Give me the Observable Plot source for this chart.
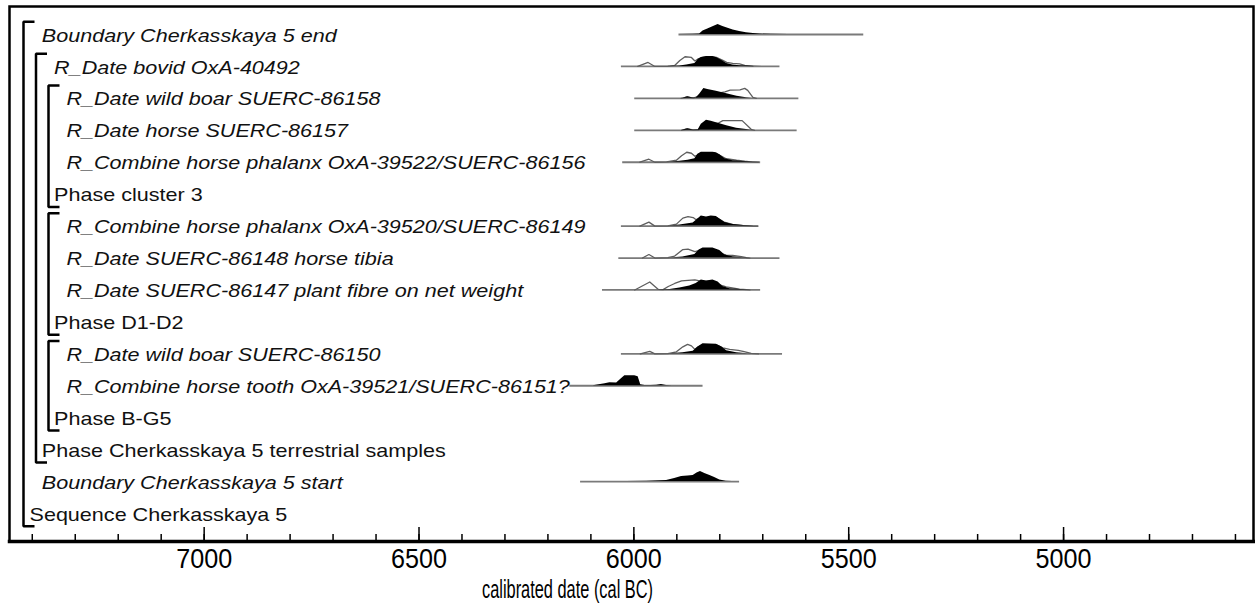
<!DOCTYPE html>
<html><head><meta charset="utf-8">
<script src="https://cdn.jsdelivr.net/npm/d3@7"></script>
<script src="https://cdn.jsdelivr.net/npm/@observablehq/plot@0.6"></script>
<style>
body{margin:0;background:#fff;}
#chart svg{display:block;}
</style></head><body><div id="chart"></div>
<script>
// ---- data ----
const rowLabels = [
  "Boundary Cherkasskaya 5 end",
  "R_Date bovid OxA-40492",
  "R_Date wild boar SUERC-86158",
  "R_Date horse SUERC-86157",
  "R_Combine horse phalanx OxA-39522/SUERC-86156",
  "Phase cluster 3",
  "R_Combine horse phalanx OxA-39520/SUERC-86149",
  "R_Date SUERC-86148 horse tibia",
  "R_Date SUERC-86147 plant fibre on net weight",
  "Phase D1-D2",
  "R_Date wild boar SUERC-86150",
  "R_Combine horse tooth OxA-39521/SUERC-86151?",
  "Phase B-G5",
  "Phase Cherkasskaya 5 terrestrial samples",
  "Boundary Cherkasskaya 5 start",
  "Sequence Cherkasskaya 5"
];
const rowItalic = [1,1,1,1,1,0,1,1,1,0,1,1,0,0,1,0];
const rowIndent = [1,2,3,3,3,2,3,3,3,2,3,3,2,1,1,0];
// calculation range (cal BC) of each row's baseline, null = no distribution
const rangeFrom = [5895,6029,5998,5998,6026,null,6029,6035,6073,null,6029,6149,null,null,6124,null];
const rangeTo   = [5465,5660,5616,5620,5705,null,5709,5660,5705,null,5654,5839,null,null,5754,null];

// posterior (modelled, filled) distributions: [cal BC, relative probability]
const postEnd = [[5895,0],[5862,0.02],[5847,0.05],[5839,0.35],[5828,0.55],[5816,0.78],[5804,1],[5793,0.8],[5781,0.62],[5769,0.45],[5754,0.3],[5738,0.18],[5722,0.1],[5707,0.05],[5680,0.02],[5640,0.01],[5600,0]];
const postBovid = [[5916,0],[5893,0.05],[5877,0.15],[5858,0.3],[5850,0.7],[5843,0.9],[5831,1],[5816,1],[5808,0.9],[5793,0.55],[5784,0.3],[5770,0.15],[5754,0.08],[5723,0.02],[5700,0]];
const postBoar58 = [[5886,0],[5875,0.15],[5865,0.05],[5855,0.03],[5847,0.4],[5837,1],[5828,0.9],[5808,0.7],[5784,0.45],[5760,0.2],[5738,0.07],[5723,0]];
const postHorse57 = [[5889,0],[5875,0.15],[5862,0.03],[5850,0.05],[5843,0.6],[5831,1],[5820,0.9],[5804,0.7],[5784,0.45],[5761,0.2],[5738,0.07],[5723,0]];
const postPhal56 = [[5916,0],[5893,0.1],[5874,0.2],[5858,0.35],[5851,0.8],[5843,1],[5816,1],[5808,0.95],[5800,0.75],[5788,0.35],[5770,0.15],[5747,0.07],[5727,0.02],[5710,0]];
const postPhal49 = [[5916,0],[5893,0.1],[5862,0.3],[5851,0.7],[5843,1],[5831,0.9],[5820,1],[5808,0.95],[5800,0.7],[5788,0.35],[5770,0.15],[5747,0.06],[5723,0.01],[5712,0]];
const postTibia = [[5916,0],[5886,0.1],[5858,0.35],[5848,0.8],[5839,1],[5816,1],[5800,0.75],[5788,0.3],[5770,0.12],[5747,0.04],[5730,0]];
const postFibre = [[5945,0],[5916,0.05],[5893,0.2],[5870,0.4],[5855,0.65],[5843,1],[5831,0.9],[5816,1],[5804,0.8],[5793,0.35],[5777,0.12],[5754,0.04],[5730,0]];
const postBoar50 = [[5916,0],[5886,0.1],[5862,0.25],[5850,0.7],[5839,1],[5808,0.95],[5796,0.7],[5784,0.3],[5761,0.1],[5735,0.02],[5715,0]];
const postTooth = [[6095,0],[6067,0.2],[6056,0.3],[6040,0.27],[6029,0.7],[6021,1],[5998,1],[5990,0.9],[5984,0.1],[5974,0.02],[5960,0.02],[5947,0.05],[5936,0.12],[5924,0.03],[5910,0]];
const postStart = [[6017,0],[5970,0.03],[5924,0.1],[5905,0.3],[5889,0.5],[5874,0.55],[5862,0.6],[5853,0.85],[5845,1],[5835,0.8],[5823,0.6],[5812,0.4],[5800,0.15],[5785,0.03],[5770,0]];

// prior (unmodelled, outline) distributions
const priorBovid = [[5991,0],[5967,0.4],[5951,0],[5921,0.02],[5905,0.1],[5893,0.6],[5881,0.97],[5866,0.9],[5858,0.55],[5851,0.75],[5839,0.9],[5820,0.95],[5808,0.9],[5793,0.6],[5784,0.4],[5770,0.3],[5754,0.25],[5742,0.1],[5723,0]];
const priorBoar58 = [[5890,0],[5875,0.15],[5862,0.03],[5847,0.25],[5837,0.4],[5820,0.5],[5800,0.55],[5788,0.65],[5776,0.83],[5753,0.85],[5742,1],[5735,0.8],[5723,0.1],[5715,0]];
const priorHorse57 = [[5889,0],[5875,0.15],[5862,0.03],[5850,0.05],[5843,0.5],[5831,0.7],[5804,0.7],[5793,0.97],[5748,0.97],[5727,0.1],[5719,0]];
const priorPhal56 = [[5986,0],[5965,0.3],[5951,0],[5924,0.03],[5901,0.2],[5889,0.65],[5877,1],[5866,0.9],[5858,0.6],[5851,0.7],[5839,0.85],[5816,0.93],[5800,0.7],[5785,0.35],[5761,0.2],[5742,0.1],[5723,0.02],[5710,0]];
const priorPhal49 = [[5986,0],[5965,0.4],[5951,0],[5921,0.03],[5901,0.2],[5886,0.8],[5874,0.95],[5862,0.85],[5856,0.65],[5845,0.8],[5831,0.85],[5808,0.85],[5790,0.4],[5770,0.18],[5747,0.08],[5723,0.01],[5712,0]];
const priorTibia = [[5980,0],[5965,0.35],[5951,0],[5921,0.05],[5905,0.2],[5886,0.85],[5874,0.9],[5858,0.65],[5845,0.8],[5816,0.85],[5800,0.5],[5785,0.3],[5770,0.27],[5750,0.15],[5738,0.03],[5730,0]];
const priorFibre = [[5998,0],[5963,0.8],[5943,0.05],[5932,0.03],[5920,0.35],[5905,0.65],[5889,0.9],[5874,0.95],[5858,1],[5847,0.9],[5831,0.85],[5816,0.85],[5800,0.5],[5785,0.3],[5754,0.08],[5730,0]];
const priorBoar50 = [[5985,0],[5963,0.25],[5951,0],[5921,0.03],[5901,0.2],[5886,0.7],[5875,0.95],[5866,0.8],[5858,0.45],[5850,0.7],[5839,0.9],[5808,0.9],[5793,0.6],[5777,0.45],[5757,0.35],[5746,0.25],[5727,0.05],[5710,0]];

const posteriorByRow = {0:postEnd,1:postBovid,2:postBoar58,3:postHorse57,4:postPhal56,6:postPhal49,7:postTibia,8:postFibre,10:postBoar50,11:postTooth,14:postStart};
const priorByRow = {1:priorBovid,2:priorBoar58,3:priorHorse57,4:priorPhal56,6:priorPhal49,7:priorTibia,8:priorFibre,10:priorBoar50};

// model structure brackets: nesting level, first row, last row
const bracketLevel = [0,1,2,2,2];
const bracketStart = [0,1,2,6,10];
const bracketEnd   = [15,13,5,9,12];

const majorTicks = [7000,6500,6000,5500,5000];
const minorTicks = d3.range(4600, 7500, 100);
const axisLabel = "calibrated date (cal BC)";

// ---- layout / style ----
const W = 1255, HGT = 610, mL = 9, mR = 2, mT = 6, mB = 69;
const xDomain = [7453, 4558];
const yDomain = [-0.877, 15.877];
const peak = 0.313;          // height of a unit-probability peak, in rows

const xs = Plot.scale({x: {domain: xDomain, range: [mL, W - mR]}});

const lines = rangeFrom.map((f, i) => ({row: i, from: f, to: rangeTo[i]})).filter(d => d.from != null);
const flat = (byRow) => Object.entries(byRow).flatMap(([r, arr]) => arr.map(([year, p]) => ({row: +r, year, p})));
const postData = flat(posteriorByRow);
const priorData = flat(priorByRow);

// bracket polylines (geometry from nesting level; pixel offsets are styling)
const bracketPts = bracketLevel.flatMap((lv, k) => {
  const px = 23 + 12.5 * lv, tick = 11;
  const top = bracketStart[k] - 0.4, bot = bracketEnd[k] + 0.4;
  const x0 = xs.invert(px), x1 = xs.invert(px + tick);
  return [{id:k,x:x1,y:top},{id:k,x:x0,y:top},{id:k,x:x0,y:bot},{id:k,x:x1,y:bot}];
});

const labelData = rowLabels.map((t, i) => ({row: i, text: t, italic: rowItalic[i], x: xs.invert(29 + 12.3 * rowIndent[i])}));

const chart = Plot.plot({
  width: W, height: HGT,
  marginLeft: mL, marginRight: mR, marginTop: mT, marginBottom: mB,
  style: {fontFamily: "'Liberation Sans', Arial, sans-serif", background: "white", color: "black"},
  x: {domain: xDomain},
  y: {domain: yDomain, reverse: true, axis: null},
  marks: [
    Plot.ruleY(lines, {y: "row", x1: "from", x2: "to", stroke: "#7a7a7a", strokeWidth: 1.8}),
    Plot.lineY(priorData, {x: "year", y: d => d.row - d.p * peak, z: "row", stroke: "#5e5e5e", strokeWidth: 1.3}),
    Plot.areaY(postData, {x: "year", y1: "row", y2: d => d.row - d.p * peak, z: "row", fill: "black"}),
    Plot.line(bracketPts, {x: "x", y: "y", z: "id", stroke: "black", strokeWidth: 2.5, strokeLinejoin: "miter", strokeLinecap: "butt"}),
    Plot.text(labelData.filter(d => d.italic), {x: "x", y: "row", text: "text", textAnchor: "start", dy: 1, fontSize: 19, fontStyle: "italic", fill: "#111"}),
    Plot.text(labelData.filter(d => !d.italic), {x: "x", y: "row", text: "text", textAnchor: "start", dy: 1, fontSize: 19, fill: "#111"}),
    Plot.axisX({ticks: minorTicks, tickSize: -7, tickFormat: () => "", label: null, strokeWidth: 1.5}),
    Plot.axisX({ticks: majorTicks, tickSize: -14, tickPadding: 21, tickFormat: d => `${d}`, label: null, strokeWidth: 1.5, fontSize: 27}),
    Plot.text([{t: axisLabel, x: xs.invert(567)}], {x: "x", text: "t", frameAnchor: "bottom", dy: 56, fontSize: 25}),
    Plot.frame({stroke: "black", strokeWidth: 2.5}),
    Plot.frame({anchor: "bottom", stroke: "black", strokeWidth: 3.5})
  ]
});
document.getElementById("chart").append(chart);

// horizontal font proportions of the original (wide labels, condensed axis text)
const rowSet = new Set(rowLabels), tickSet = new Set(majorTicks.map(String));
d3.select(chart).selectAll("text").each(function () {
  const t = this.textContent;
  const w = this.getComputedTextLength();
  let target = null;
  if (rowSet.has(t)) target = w * 1.135;
  else if (tickSet.has(t)) target = 56;
  else if (t === axisLabel) target = 171;
  if (target && w > 0) { this.setAttribute("textLength", target); this.setAttribute("lengthAdjust", "spacingAndGlyphs"); }
});
</script></body></html>
